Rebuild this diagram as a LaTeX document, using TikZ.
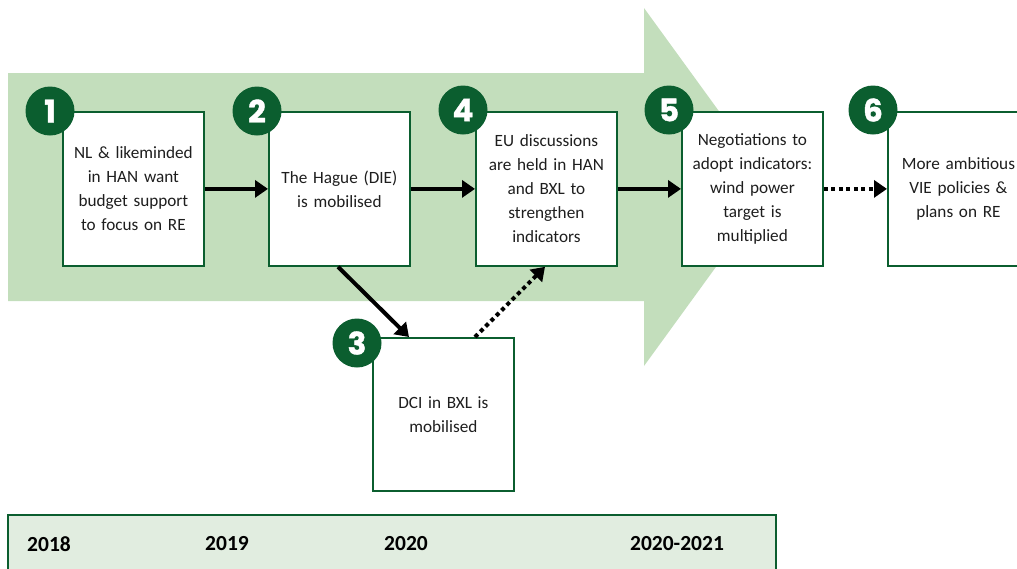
\documentclass[tikz,border=0pt]{standalone}
\usepackage{fontspec}
\setmainfont{Carlito}
\newfontfamily\numfont{Poppins}[BoldFeatures={FakeBold=1.2}]
\usetikzlibrary{arrows.meta,calc}
\definecolor{dg}{HTML}{0B5E2F}
\definecolor{lg}{HTML}{C3DEBC}
\definecolor{barbg}{HTML}{E1EDE0}
\definecolor{txt}{HTML}{1E1E1E}
\begin{document}
\begin{tikzpicture}[x=1pt,y=-1pt,
 box/.style={draw=dg,line width=1.8pt,fill=white,minimum width=141pt,minimum height=154pt,inner sep=0pt,text width=138pt,align=center,font=\fontsize{17.2}{24}\selectfont,text=txt,anchor=north west},
 num/.style={circle,fill=dg,minimum size=49pt,inner sep=0pt,text=white,font=\numfont\bfseries\fontsize{31}{31}\selectfont},
 flow/.style={line width=4pt,-{Triangle[length=13pt,width=17pt]}},
 dotflow/.style={flow,dash pattern=on 4pt off 3.5pt},
 year/.style={font=\bfseries\fontsize{21.5}{21.5}\selectfont,text=black}]
\useasboundingbox (0,0) rectangle (1017,568);
\clip (0,0) rectangle (1017,568);
% big background arrow
\fill[lg] (8,73) -- (644,73) -- (644,8) -- (774,187) -- (644,366) -- (644,301) -- (8,301) -- cycle;
% boxes
\node[box] (b1) at (62,111) {NL \& likeminded\\in HAN want\\budget support\\to focus on RE};
\node[box] (b2) at (268,111) {The Hague (DIE)\\is mobilised};
\node[box] (b4) at (475,111) {EU discussions\\are held in HAN\\and BXL to\\strengthen\\indicators};
\node[box] (b5) at (681,111) {Negotiations to\\adopt indicators:\\wind power\\target is\\multiplied};
\node[box] (b6) at (887,111) {More ambitious\\VIE policies \&\\plans on RE};
\node[box,minimum height=153pt] (b3) at (372,337) {DCI in BXL is\\mobilised};
% connectors
\draw[flow] (b1.east) -- (b2.west);
\draw[flow] (b2.east) -- (b4.west);
\draw[flow] (b4.east) -- (b5.west);
\draw[dotflow] (b5.east) -- (b6.west);
\coordinate (s23) at ($(b2.south west)+(70,0)$);
\coordinate (e23) at ($(b3.north west)+(37,0)$);
\draw[flow] (s23) -- (e23);
\coordinate (s34) at ($(b3.north west)+(103,0)$);
\coordinate (e34) at ($(b4.south west)+(70,0)$);
\draw[dotflow] (s34) -- (e34);
% number circles
\node[num] (n1) at (50,111) {1};
\node[num] (n2) at (257,111) {2};
\node[num] (n4) at (463,110) {4};
\node[num] (n5) at (669,110) {5};
\node[num] (n6) at (873,110) {6};
\node[num] (n3) at (357,343) {3};
% timeline bar
\draw[dg,fill=barbg,line width=1.8pt] (8,515) rectangle (776,580);
\node[year] (y1) at (49,544) {2018};
\node[year] (y2) at (227,544) {2019};
\node[year] (y3) at (406,544) {2020};
\node[year] (y4) at (677,544) {2020-2021};
\end{tikzpicture}
\end{document}
